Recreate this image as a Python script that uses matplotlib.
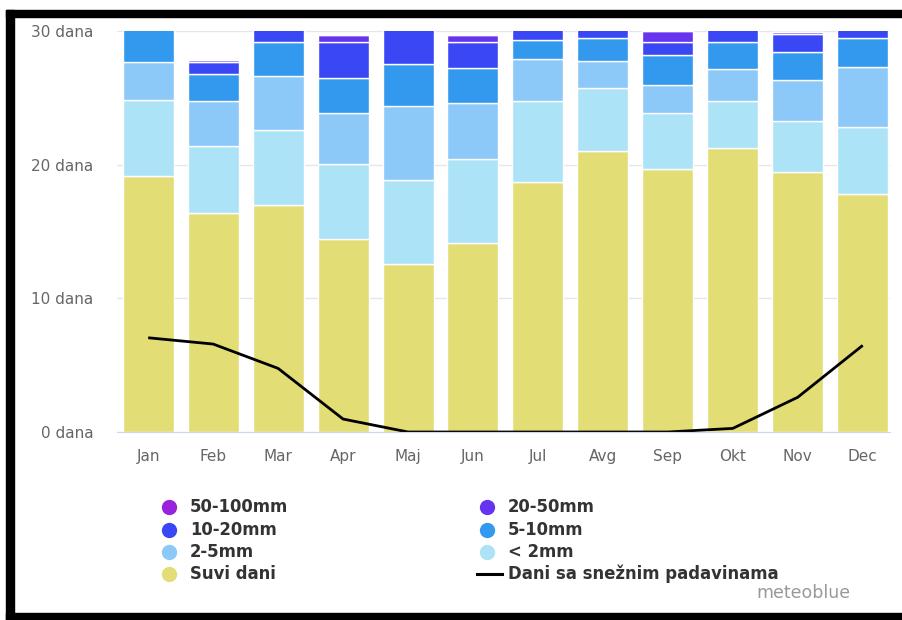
import matplotlib.pyplot as plt
import numpy as np
from matplotlib.lines import Line2D
from matplotlib.patches import Rectangle

# monthly precipitation-day breakdown (days per month)
months = ['Jan', 'Feb', 'Mar', 'Apr', 'Maj', 'Jun', 'Jul', 'Avg', 'Sep', 'Okt', 'Nov', 'Dec']
suvi_dani = [19.15, 16.36, 16.98, 14.41, 12.54, 14.11, 18.70, 21.04, 19.70, 21.26, 19.47, 17.82]
lt_2mm = [5.68, 5.03, 5.61, 5.63, 6.35, 6.28, 6.06, 4.71, 4.14, 3.49, 3.81, 5.01]
mm_2_5 = [2.82, 3.37, 4.04, 3.79, 5.49, 4.24, 3.11, 2.02, 2.12, 2.44, 3.04, 4.49]
mm_5_10 = [3.35, 2.02, 2.57, 2.69, 3.14, 2.57, 1.42, 1.67, 2.27, 1.99, 2.12, 2.12]
mm_10_20 = [0.0, 0.87, 1.80, 2.62, 3.48, 1.97, 1.71, 1.56, 0.97, 1.82, 1.32, 1.56]
mm_20_50 = [0.0, 0.17, 0.0, 0.55, 0.0, 0.55, 0.0, 0.0, 0.80, 0.0, 0.15, 0.0]
mm_50_100 = [0.0] * 12
snezni_dani = [7.05, 6.58, 4.76, 0.97, 0.0, 0.0, 0.0, 0.0, 0.0, 0.27, 2.60, 6.48]

series = [
    ('Suvi dani', suvi_dani, '#e3dd75'),
    ('< 2mm', lt_2mm, '#ade3f6'),
    ('2-5mm', mm_2_5, '#8cc8f8'),
    ('5-10mm', mm_5_10, '#3399ee'),
    ('10-20mm', mm_10_20, '#3a47f5'),
    ('20-50mm', mm_20_50, '#6633ee'),
    ('50-100mm', mm_50_100, '#9922dd'),
]
colors = {name: c for name, _, c in series}

W, H = 902, 620
fig = plt.figure(figsize=(W / 100, H / 100), dpi=100)
fig.patch.set_facecolor('white')

# axes box in pixel terms
left, right, top, bottom = 117, 890, 31, 432
ax = fig.add_axes([left / W, 1 - bottom / H, (right - left) / W, (bottom - top) / H])

x = np.arange(len(months))
base = np.zeros(len(months))
for name, vals, col in series:
    vals = np.array(vals)
    ax.bar(x, vals, bottom=base, width=0.785, color=col, edgecolor='white',
           linewidth=1.0, zorder=2)
    base += vals

ax.plot(x, snezni_dani, color='black', lw=2.0, zorder=3, solid_capstyle='butt')

ax.set_xlim(-0.48, 11.42)
ax.set_ylim(0, 30)
ax.set_yticks([0, 10, 20, 30])
ax.set_yticklabels([f'{v} dana' for v in [0, 10, 20, 30]])
ax.set_xticks(x)
ax.set_xticklabels(months)
ax.tick_params(axis='y', length=0, pad=17, labelsize=11, labelcolor='#666666')
ax.tick_params(axis='x', length=0, pad=12, labelsize=11, labelcolor='#666666')
ax.grid(axis='y', color='#e6e6e6', lw=1, zorder=0)
ax.set_axisbelow(True)
for s in ['top', 'right', 'left']:
    ax.spines[s].set_visible(False)
ax.spines['bottom'].set_color('#ccd6eb')
ax.spines['bottom'].set_zorder(4)

# legend, drawn by hand in two columns
def fx(px):
    return px / W

def fy(py):
    return 1 - py / H

rows = [507, 530, 552, 574]
col1 = ['50-100mm', '10-20mm', '2-5mm', 'Suvi dani']
col2 = ['20-50mm', '5-10mm', '< 2mm']
for ry, name in zip(rows, col1):
    fig.add_artist(Line2D([fx(169)], [fy(ry)], marker='o', ms=10, color=colors[name],
                          lw=0, transform=fig.transFigure))
    fig.text(fx(190), fy(ry), name, fontsize=11.9, fontweight='bold', color='#333333',
             va='center', ha='left')
for ry, name in zip(rows[:3], col2):
    fig.add_artist(Line2D([fx(487)], [fy(ry)], marker='o', ms=10, color=colors[name],
                          lw=0, transform=fig.transFigure))
    fig.text(fx(508), fy(ry), name, fontsize=11.9, fontweight='bold', color='#333333',
             va='center', ha='left')
fig.add_artist(Line2D([fx(477), fx(502)], [fy(rows[3]), fy(rows[3])], color='black', lw=2.2,
                      transform=fig.transFigure))
fig.text(fx(508), fy(rows[3]), 'Dani sa snežnim padavinama', fontsize=11.9,
         fontweight='bold', color='#333333', va='center', ha='left')

fig.text(fx(850), fy(593), 'meteoblue', fontsize=12.5, color='#999999', ha='right', va='center')

# black frame around the chart
for (x0, y0, w, h) in [(6, 10, W - 6, 7), (6, 10, 8, H - 10), (6, 613, W - 6, 7)]:
    fig.patches.append(Rectangle((fx(x0), fy(y0 + h)), w / W, h / H, color='black',
                                 transform=fig.transFigure, zorder=10))

plt.savefig('out.png', dpi=100)
